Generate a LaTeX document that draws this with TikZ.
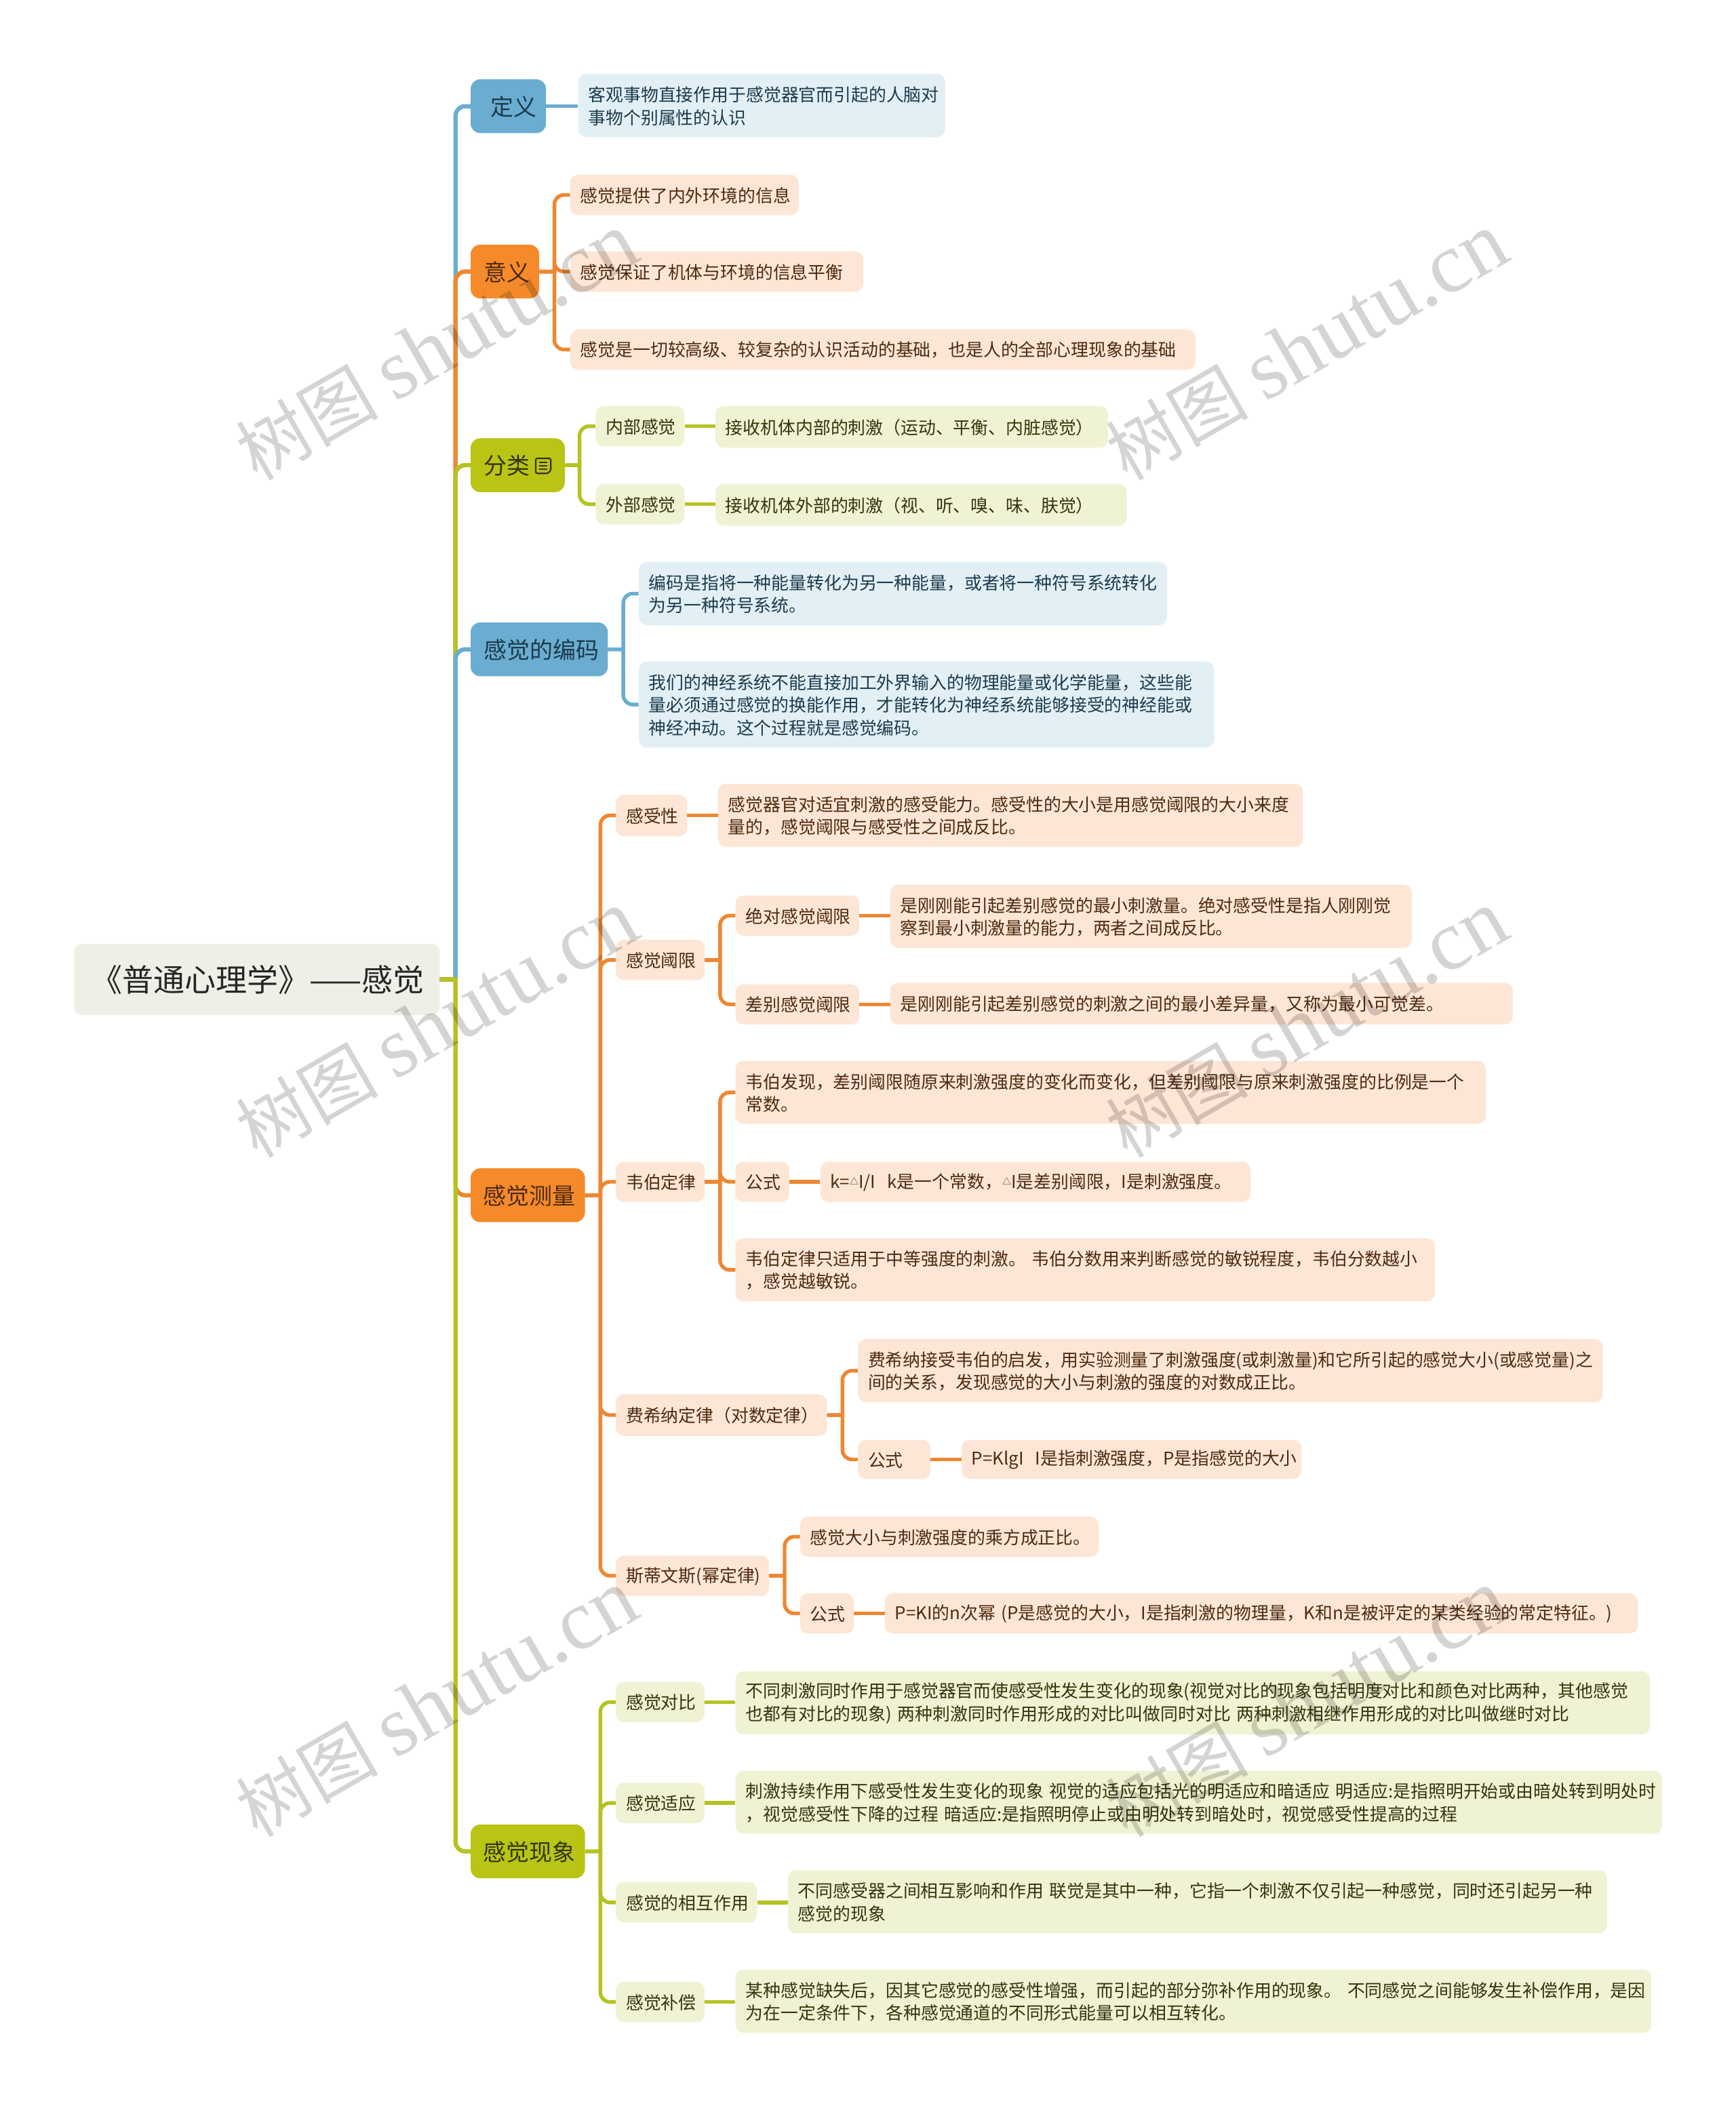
\documentclass[tikz,border=0pt]{standalone}
\usepackage{fontspec}
\setmainfont{Noto Sans CJK SC}
\newfontfamily\wmlatin{Liberation Serif}
\definecolor{bluemain}{HTML}{6AADD0}
\definecolor{bluelight}{HTML}{E2F0F6}
\definecolor{bluetext}{HTML}{1C3A4C}
\definecolor{orgmain}{HTML}{F58A2B}
\definecolor{orgline}{HTML}{EE8732}
\definecolor{orglight}{HTML}{FDE6D6}
\definecolor{orgtext}{HTML}{4D2A10}
\definecolor{olvmain}{HTML}{B9C415}
\definecolor{olvline}{HTML}{B5C321}
\definecolor{olvlight}{HTML}{F0F2D4}
\definecolor{olvtext}{HTML}{33360A}
\definecolor{rootfill}{HTML}{EFEFE7}
\newcommand{\szS}{\fontsize{25.85pt}{33.4pt}\selectfont}
\newcommand{\szM}{\fontsize{34pt}{40pt}\selectfont}
\newcommand{\szL}{\fontsize{46pt}{50pt}\selectfont}
\newcommand{\tri}{\raisebox{5pt}{\fontsize{13pt}{13pt}\selectfont △}}
% name x1 y1 x2 y2 style text (coordinates in the 1291-wide frame)
\newcommand{\nd}[7]{%
  \pgfmathsetmacro{\wdt}{(#4-#2)*1.98296}%
  \pgfmathsetmacro{\hgt}{(#5-#3)*1.98296}%
  \node[#6,minimum width=\wdt pt,minimum height=\hgt pt] (#1)
    at ({(#2+#4)/2},{(#3+#5)/2}) {};
  \node[#6,fill=none,text width=\wdt pt-28pt,yshift=-0.8pt,xshift=1pt] (#1t) at (#1.center) {#7};}
\newcommand{\conn}[4]{%
  \coordinate (tmpx) at (#4,0);
  \draw[#1] (#2.east) -- (#2.east -| tmpx) [rounded corners=14pt] -- (#3.west -| tmpx) -- (#3.west);}
\newcommand{\lnk}[3]{\draw[#1] (#2.east) -- (#2.east -| #3.west);}
\tikzset{
  box/.style={rectangle,inner xsep=14pt,inner ysep=0pt,align=left,rounded corners=12pt,font=\szS},
  mainbox/.style={box,font=\szM,rounded corners=14pt},
  mblue/.style={mainbox,fill=bluemain,text=bluetext},
  morg/.style={mainbox,fill=orgmain,text=orgtext},
  molv/.style={mainbox,fill=olvmain,text=olvtext},
  lblue/.style={box,fill=bluelight,text=bluetext},
  lorg/.style={box,fill=orglight,text=orgtext},
  lolv/.style={box,fill=olvlight,text=olvtext},
  rootbox/.style={box,fill=rootfill,text=black!85,font=\szL,rounded corners=12pt,align=center},
  bl/.style={line width=6.3pt,draw=bluemain},
  ol/.style={line width=6.3pt,draw=orgline},
  gl/.style={line width=6.3pt,draw=olvline},
  bs/.style={line width=5.4pt,draw=bluemain},
  os/.style={line width=5.4pt,draw=orgline},
  gs/.style={line width=5.4pt,draw=olvline},
  wmark/.style={rotate=30,text=black,opacity=0.17,font=\fontsize{105pt}{105pt}\selectfont,inner sep=0pt}
}
\begin{document}
\begin{tikzpicture}[x=1.98296pt,y=-1.98296pt]
\useasboundingbox (0,0) rectangle (1291,1567.9);
\fill[white] (0,0) rectangle (1291,1567.9);
\nd{root}{55}{702}{327}{755}{rootbox}{《普通心理学》——感觉}
% level 1
\nd{dy}{350}{59}{406}{99}{mblue}{\hspace*{14pt}定义}
\nd{yy}{350}{182}{401}{222}{morg}{\hspace*{4pt}意义}
\nd{fl}{350}{326}{420}{366}{molv}{\hspace*{4pt}分类}
\nd{bm}{350}{463}{452}{503}{mblue}{\hspace*{4pt}感觉的编码}
\nd{cl}{350}{869}{435}{909}{morg}{\hspace*{3pt}感觉测量}
\nd{xx}{350}{1357}{435}{1397}{molv}{\hspace*{3pt}感觉现象}
% 定义
\nd{dya}{430}{55}{703}{102}{lblue}{客观事物直接作用于感觉器官而引起的人脑对\\事物个别属性的认识}
% 意义
\nd{yya}{424}{130}{594}{160}{lorg}{感觉提供了内外环境的信息}
\nd{yyb}{424}{187}{642}{217}{lorg}{感觉保证了机体与环境的信息平衡}
\nd{yyc}{424}{245}{889}{275}{lorg}{感觉是一切较高级、较复杂的认识活动的基础，也是人的全部心理现象的基础}
% 分类
\nd{fla}{443}{302}{509}{332}{lolv}{内部感觉}
\nd{flaa}{532}{302}{824}{333}{lolv}{接收机体内部的刺激（运动、平衡、内脏感觉）}
\nd{flb}{443}{360}{509}{390}{lolv}{外部感觉}
\nd{flbb}{532}{360}{838}{391}{lolv}{接收机体外部的刺激（视、听、嗅、味、肤觉）}
% 编码
\nd{bma}{475}{418}{868}{465}{lblue}{编码是指将一种能量转化为另一种能量，或者将一种符号系统转化\\为另一种符号系统。}
\nd{bmb}{475}{492}{903}{556}{lblue}{我们的神经系统不能直接加工外界输入的物理能量或化学能量，这些能\\量必须通过感觉的换能作用，才能转化为神经系统能够接受的神经能或\\神经冲动。这个过程就是感觉编码。}
% 测量
\nd{ca}{458}{591}{511}{622}{lorg}{感受性}
\nd{caa}{534}{583}{969}{630}{lorg}{感觉器官对适宜刺激的感受能力。感受性的大小是用感觉阈限的大小来度\\量的，感觉阈限与感受性之间成反比。}
\nd{cb}{458}{699}{524}{729}{lorg}{感觉阈限}
\nd{cba}{547}{666}{639}{696}{lorg}{绝对感觉阈限}
\nd{cbaa}{662}{658}{1050}{705}{lorg}{是刚刚能引起差别感觉的最小刺激量。绝对感受性是指人刚刚觉\\察到最小刺激量的能力，两者之间成反比。}
\nd{cbb}{547}{732}{639}{762}{lorg}{差别感觉阈限}
\nd{cbbb}{662}{731}{1125}{762}{lorg}{是刚刚能引起差别感觉的刺激之间的最小差异量，又称为最小可觉差。}
\nd{cc}{458}{864}{524}{894}{lorg}{韦伯定律}
\nd{cca}{547}{789}{1105}{836}{lorg}{韦伯发现，差别阈限随原来刺激强度的变化而变化，但差别阈限与原来刺激强度的比例是一个\\常数。}
\nd{ccb}{547}{864}{587}{894}{lorg}{公式}
\nd{ccbb}{610}{864}{930}{894}{lorg}{k=\tri{}I/I\ \ k是一个常数，\tri{}I是差别阈限，I是刺激强度。}
\nd{ccc}{547}{921}{1067}{968}{lorg}{韦伯定律只适用于中等强度的刺激。 韦伯分数用来判断感觉的敏锐程度，韦伯分数越小\\，感觉越敏锐。}
\nd{cd}{458}{1037}{615}{1068}{lorg}{费希纳定律（对数定律）}
\nd{cda}{638}{996}{1192}{1043}{lorg}{费希纳接受韦伯的启发，用实验测量了刺激强度(或刺激量)和它所引起的感觉大小(或感觉量)之\\间的关系，发现感觉的大小与刺激的强度的对数成正比。}
\nd{cdb}{638}{1071}{692}{1100}{lorg}{公式}
\nd{cdbb}{715}{1071}{968}{1100}{lorg}{P=KlgI\ \ I是指刺激强度，P是指感觉的大小}
\nd{ce}{458}{1157}{572}{1187}{lorg}{斯蒂文斯(幂定律)}
\nd{cea}{595}{1128}{817}{1158}{lorg}{感觉大小与刺激强度的乘方成正比。}
\nd{ceb}{595}{1185}{635}{1215}{lorg}{公式}
\nd{cebb}{658}{1185}{1218}{1215}{lorg}{P=KI的n次幂 (P是感觉的大小，I是指刺激的物理量，K和n是被评定的某类经验的常定特征。)}
% 现象
\nd{xa}{458}{1251}{524}{1281}{lolv}{感觉对比}
\nd{xaa}{547}{1243}{1227}{1290}{lolv}{不同刺激同时作用于感觉器官而使感受性发生变化的现象(视觉对比的现象包括明度对比和颜色对比两种，其他感觉\\也都有对比的现象) 两种刺激同时作用形成的对比叫做同时对比 两种刺激相继作用形成的对比叫做继时对比}
\nd{xb}{458}{1326}{524}{1356}{lolv}{感觉适应}
\nd{xbb}{547}{1317}{1236}{1364}{lolv}{刺激持续作用下感受性发生变化的现象 视觉的适应包括光的明适应和暗适应 明适应:是指照明开始或由暗处转到明处时\\，视觉感受性下降的过程 暗适应:是指照明停止或由明处转到暗处时，视觉感受性提高的过程}
\nd{xc}{458}{1400}{563}{1430}{lolv}{感觉的相互作用}
\nd{xcc}{586}{1391}{1195}{1438}{lolv}{不同感受器之间相互影响和作用 联觉是其中一种，它指一个刺激不仅引起一种感觉，同时还引起另一种\\感觉的现象}
\nd{xd}{458}{1474}{524}{1504}{lolv}{感觉补偿}
\nd{xdd}{547}{1465}{1228}{1512}{lolv}{某种感觉缺失后，因其它感觉的感受性增强，而引起的部分弥补作用的现象。 不同感觉之间能够发生补偿作用，是因\\为在一定条件下，各种感觉通道的不同形式能量可以相互转化。}
% note icon
\begin{scope}[shift={(404,346.5)},line width=2.2pt,draw=olvtext]
\draw[rounded corners=2.5pt] (-5.6,-5.6) -- (5.6,-5.6) -- (5.6,3.4) -- (3.4,5.6) -- (-5.6,5.6) -- cycle;
\draw (-3,-2.6) -- (3,-2.6) (-3,0) -- (3,0) (-3,2.6) -- (3,2.6);
\end{scope}
% connectors
\conn{bl}{root}{dy}{338.8}
\conn{ol}{root}{yy}{338.8}
\conn{gl}{root}{fl}{338.8}
\conn{bl}{root}{bm}{338.8}
\conn{ol}{root}{cl}{338.8}
\conn{gl}{root}{xx}{338.8}
\lnk{bs}{dy}{dya}
\conn{os}{yy}{yya}{412.3}
\conn{os}{yy}{yyb}{412.3}
\conn{os}{yy}{yyc}{412.3}
\conn{gs}{fl}{fla}{431}
\conn{gs}{fl}{flb}{431}
\lnk{gs}{fla}{flaa}
\lnk{gs}{flb}{flbb}
\conn{bs}{bm}{bma}{463.5}
\conn{bs}{bm}{bmb}{463.5}
\conn{os}{cl}{ca}{446.5}
\conn{os}{cl}{cb}{446.5}
\conn{os}{cl}{cc}{446.5}
\conn{os}{cl}{cd}{446.5}
\conn{os}{cl}{ce}{446.5}
\lnk{os}{ca}{caa}
\conn{os}{cb}{cba}{535.5}
\conn{os}{cb}{cbb}{535.5}
\lnk{os}{cba}{cbaa}
\lnk{os}{cbb}{cbbb}
\conn{os}{cc}{cca}{535.5}
\conn{os}{cc}{ccb}{535.5}
\conn{os}{cc}{ccc}{535.5}
\lnk{os}{ccb}{ccbb}
\conn{os}{cd}{cda}{626.5}
\conn{os}{cd}{cdb}{626.5}
\lnk{os}{cdb}{cdbb}
\conn{os}{ce}{cea}{583.5}
\conn{os}{ce}{ceb}{583.5}
\lnk{os}{ceb}{cebb}
\conn{gs}{xx}{xa}{446.5}
\conn{gs}{xx}{xb}{446.5}
\conn{gs}{xx}{xc}{446.5}
\conn{gs}{xx}{xd}{446.5}
\lnk{gs}{xa}{xaa}
\lnk{gs}{xb}{xbb}
\lnk{gs}{xc}{xcc}
\lnk{gs}{xd}{xdd}
% watermarks
\foreach \wi/\wx/\wy in {a/325/258,b/972/258,c/325/762,d/972/762,e/325/1267,f/972/1267}{
  \node[wmark] (wm\wi) at (\wx,\wy) {树图 {\wmlatin\fontsize{126pt}{126pt}\selectfont shutu.cn}};
}
\end{tikzpicture}
\end{document}
